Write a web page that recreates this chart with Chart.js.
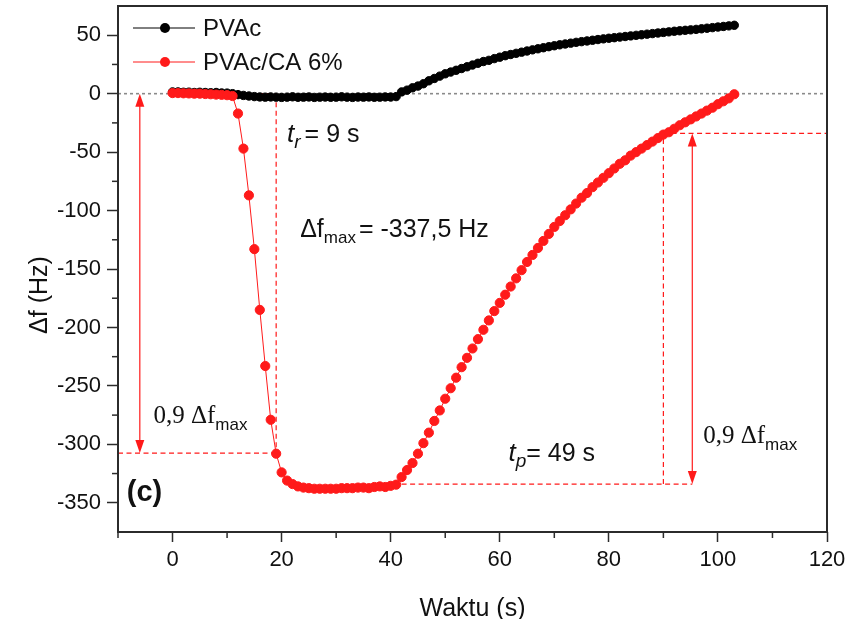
<!DOCTYPE html>
<html><head><meta charset="utf-8">
<script src="https://cdn.jsdelivr.net/npm/chart.js@4/dist/chart.umd.min.js"></script>
<style>html,body{margin:0;padding:0;background:#fff}#wrap{width:848px;height:619px;position:relative}</style>
</head><body><div id="wrap"><canvas id="c" width="848" height="619"></canvas></div>
<script>
// ---- data ----
const timeS = [0,1,2,3,4,5,6,7,8,9,10,11,12,13,14,15,16,17,18,19,20,21,22,23,24,25,26,27,28,29,30,31,32,33,34,35,36,37,38,39,40,41,42,43,44,45,46,47,48,49,50,51,52,53,54,55,56,57,58,59,60,61,62,63,64,65,66,67,68,69,70,71,72,73,74,75,76,77,78,79,80,81,82,83,84,85,86,87,88,89,90,91,92,93,94,95,96,97,98,99,100,101,102,103];
const pvac = [1.5,1.5,1.2,1.3,1,1.2,1,0.8,1,0.6,0.5,0,-0.8,-1.5,-2,-2.5,-2.8,-3,-2.8,-3,-3.2,-3,-2.7,-3.1,-3,-2.8,-3.2,-3,-2.9,-3.1,-3,-2.7,-3,-3.2,-2.9,-3,-2.8,-3.1,-3,-2.8,-2.9,-2.5,1.5,3,5,6.5,8.5,11,13,15,17,18.5,20,21.5,23,24.5,26,27.5,28.5,30,31.2,32.5,33.5,34.5,35.5,36.5,37.5,38.4,39.3,40.2,41,41.8,42.5,43.2,43.9,44.5,45.1,45.7,46.3,46.9,47.4,47.9,48.4,48.9,49.4,49.9,50.4,50.9,51.4,51.9,52.4,52.9,53.4,53.8,54.2,54.6,55,55.5,56,56.5,57,57.5,58,58.5];
const pvacCA = [0.5,0.5,0.3,0.2,0,0,-0.3,-0.5,-0.8,-1,-1.3,-2,-17,-47,-87,-133,-185,-233,-279,-308,-324,-331,-334,-336,-337,-337.5,-338,-338,-338,-338,-338,-337.5,-337.5,-337.5,-337,-337,-337.5,-336.5,-336,-336.5,-335.5,-334.5,-328,-322,-316,-308,-299,-290,-280,-271,-261,-252,-243,-234,-226,-218,-210,-202,-194,-186,-179,-172,-165,-158,-151,-144,-138,-132,-126,-120,-114,-109,-104,-99,-94,-89,-85,-80,-76,-72,-68,-64,-60,-57,-53,-50,-47,-44,-41,-38,-35,-33,-30,-27,-24.5,-22,-19.5,-17,-14.5,-12,-9,-6.5,-4,-0.5];
const seriesNames = ['PVAc', 'PVAc/CA 6%'];
const xTickValues = [0,20,40,60,80,100,120];
const yTickValues = [-350,-300,-250,-200,-150,-100,-50,0,50];
const xMinorTicks = [-10,10,30,50,70,90,110];
const yMinorTicks = [-325,-275,-225,-175,-125,-75,-25,25];
// annotation values (data units)
const riseStart = 11, riseEnd = 19, level90Rise = -307.5;
const recStart = 42, recEnd = 90, levelMin = -334, level10 = -34;
const arrowLeftX = -6, arrowRightX = 95.3;

const RED = '#ff1a1a';
const SANS = '"Liberation Sans", Arial, sans-serif';
const SERIF = '"Liberation Serif", "Times New Roman", serif';

function pts(xs, ys){ return xs.map((t,i)=>({x:t, y:ys[i]})); }

function drawRuns(ctx, x, y, runs){
  ctx.textBaseline = 'alphabetic'; ctx.textAlign = 'left';
  let cx = x;
  for (const r of runs){
    ctx.font = r.font;
    ctx.fillText(r.text, cx, y + (r.dy||0));
    cx += ctx.measureText(r.text).width + (r.gap||0);
  }
}
function seg(ctx,x1,y1,x2,y2){ ctx.beginPath(); ctx.moveTo(x1,y1); ctx.lineTo(x2,y2); ctx.stroke(); }
function arrowHead(ctx,x,y,dir){ // dir -1 up, +1 down
  ctx.beginPath(); ctx.moveTo(x,y); ctx.lineTo(x-4.5,y-dir*13); ctx.lineTo(x+4.5,y-dir*13); ctx.closePath(); ctx.fill();
}

const annot = {
  id:'annot',
  beforeDatasetsDraw(chart){
    const {ctx, chartArea:a, scales:{x,y}} = chart;
    const X=v=>x.getPixelForValue(v), Y=v=>y.getPixelForValue(v);
    ctx.save();
    ctx.strokeStyle='#8a8a8a'; ctx.lineWidth=1.6; ctx.setLineDash([3,3]);
    seg(ctx, a.left, Y(0), a.right, Y(0));
    ctx.strokeStyle=RED; ctx.lineWidth=1.2; ctx.setLineDash([5,3.5]);
    seg(ctx, X(riseStart), Y(0), X(riseEnd), Y(0));
    seg(ctx, X(riseEnd), Y(0), X(riseEnd), Y(level90Rise));
    seg(ctx, a.left, Y(level90Rise), X(riseEnd), Y(level90Rise));
    seg(ctx, X(recStart), Y(levelMin), X(arrowRightX), Y(levelMin));
    seg(ctx, X(recEnd), Y(levelMin), X(recEnd), Y(level10));
    seg(ctx, X(recEnd+1.5), Y(level10), a.right, Y(level10));
    ctx.setLineDash([]);
    ctx.lineWidth=1.2; ctx.fillStyle=RED;
    seg(ctx, X(arrowLeftX), Y(0)+6, X(arrowLeftX), Y(level90Rise)-6);
    arrowHead(ctx, X(arrowLeftX), Y(0), -1);
    arrowHead(ctx, X(arrowLeftX), Y(level90Rise), 1);
    seg(ctx, X(arrowRightX), Y(levelMin)-6, X(arrowRightX), Y(level10)+6);
    arrowHead(ctx, X(arrowRightX), Y(level10), -1);
    arrowHead(ctx, X(arrowRightX), Y(levelMin), 1);
    ctx.restore();
  },
  afterDraw(chart){
    const {ctx, chartArea:a, scales:{x,y}} = chart;
    const X=v=>x.getPixelForValue(v), Y=v=>y.getPixelForValue(v);
    ctx.save();
    // frame
    ctx.strokeStyle='#2b2b2b'; ctx.lineWidth=2;
    ctx.strokeRect(a.left, a.top, a.right-a.left, a.bottom-a.top);
    // minor ticks
    ctx.lineWidth=1.5;
    for (const v of xMinorTicks){ const px=X(v); seg(ctx, px, a.bottom, px, a.bottom+6); }
    for (const v of yMinorTicks){ const py=Y(v); seg(ctx, a.left-6, py, a.left, py); }
    // legend
    const ds = chart.data.datasets;
    const legendItems = [ds[1], ds[0]];
    legendItems.forEach((d,i)=>{
      const ly = a.top + 22 + i*34;
      ctx.strokeStyle=d.borderColor; ctx.lineWidth=1;
      seg(ctx, a.left+15, ly, a.left+77, ly);
      ctx.fillStyle=d.backgroundColor; ctx.beginPath(); ctx.arc(a.left+47, ly, 5, 0, Math.PI*2); ctx.fill();
      ctx.fillStyle='#111'; ctx.font='24px '+SANS; ctx.textBaseline='middle'; ctx.textAlign='left';
      ctx.fillText(d.label, a.left+85, ly+1);
    });
    // y axis title
    ctx.save(); ctx.translate(40, 295); ctx.rotate(-Math.PI/2);
    ctx.fillStyle='#111'; ctx.font='25px '+SANS; ctx.textAlign='center'; ctx.textBaseline='middle';
    ctx.fillText('\u0394f (Hz)', 0, 0); ctx.restore();
    // annotation texts
    ctx.fillStyle='#111';
    drawRuns(ctx, X(21), Y(-33.8)+9, [
      {text:'t', font:'italic 26px '+SANS},
      {text:'r', font:'italic 19px '+SANS, dy:6, gap:4},
      {text:'= 9 s', font:'25px '+SANS}]);
    drawRuns(ctx, X(23.4), Y(-115)+9, [
      {text:'\u0394f', font:'25px '+SANS},
      {text:'max', font:'17px '+SANS, dy:6, gap:3},
      {text:'= -337,5 Hz', font:'25px '+SANS}]);
    drawRuns(ctx, X(61.6), Y(-306.7)+9, [
      {text:'t', font:'italic 26px '+SANS},
      {text:'p', font:'italic 19px '+SANS, dy:6},
      {text:'= 49 s', font:'25px '+SANS}]);
    drawRuns(ctx, X(-3.5), Y(-275)+8, [
      {text:'0,9 \u0394f', font:'25px '+SERIF},
      {text:'max', font:'17px '+SANS, dy:7}]);
    drawRuns(ctx, X(97.3), Y(-292)+8, [
      {text:'0,9 \u0394f', font:'25px '+SERIF},
      {text:'max', font:'17px '+SANS, dy:7}]);
    ctx.font='bold 29px '+SANS; ctx.textBaseline='middle'; ctx.textAlign='left';
    ctx.fillText('(c)', X(-8.4), Y(-342));
    ctx.restore();
  }
};

new Chart(document.getElementById('c'), {
  type:'line',
  data:{ datasets:[
    {label:seriesNames[1], data:pts(timeS,pvacCA), borderColor:RED, backgroundColor:RED, pointBackgroundColor:RED, pointBorderColor:RED, pointRadius:4.6, borderWidth:1, order:0},
    {label:seriesNames[0], data:pts(timeS,pvac), borderColor:'#000', backgroundColor:'#000', pointBackgroundColor:'#000', pointBorderColor:'#000', pointRadius:4.2, borderWidth:1, order:1}
  ]},
  options:{
    responsive:false, animation:false, events:[],
    layout:{padding:{top:6, right:21, left:0, bottom:0}},
    plugins:{legend:{display:false}, tooltip:{enabled:false}},
    scales:{
      x:{type:'linear', min:-10, max:120,
        border:{display:false},
        grid:{drawOnChartArea:false, tickLength:10, tickColor:'#2b2b2b', tickWidth:1.5},
        ticks:{color:'#111', font:{family:SANS, size:22}, padding:5, maxRotation:0},
        afterBuildTicks(s){ s.ticks = xTickValues.map(v=>({value:v})); },
        title:{display:true, text:'Waktu (s)', color:'#111', font:{family:SANS, size:25}, padding:{top:18, bottom:-5}},
        afterFit(s){ s.height = 87; s.paddingLeft = 0; s.paddingRight = 0; }
      },
      y:{type:'linear', min:-375, max:75,
        border:{display:false},
        grid:{drawOnChartArea:false, tickLength:11, tickColor:'#2b2b2b', tickWidth:1.5},
        ticks:{color:'#111', font:{family:SANS, size:22}, padding:6},
        afterBuildTicks(s){ s.ticks = yTickValues.map(v=>({value:v})); },
        afterFit(s){ s.width = 118; s.paddingTop = 0; s.paddingBottom = 0; }
      }
    }
  },
  plugins:[annot]
});
</script>
</body></html>
